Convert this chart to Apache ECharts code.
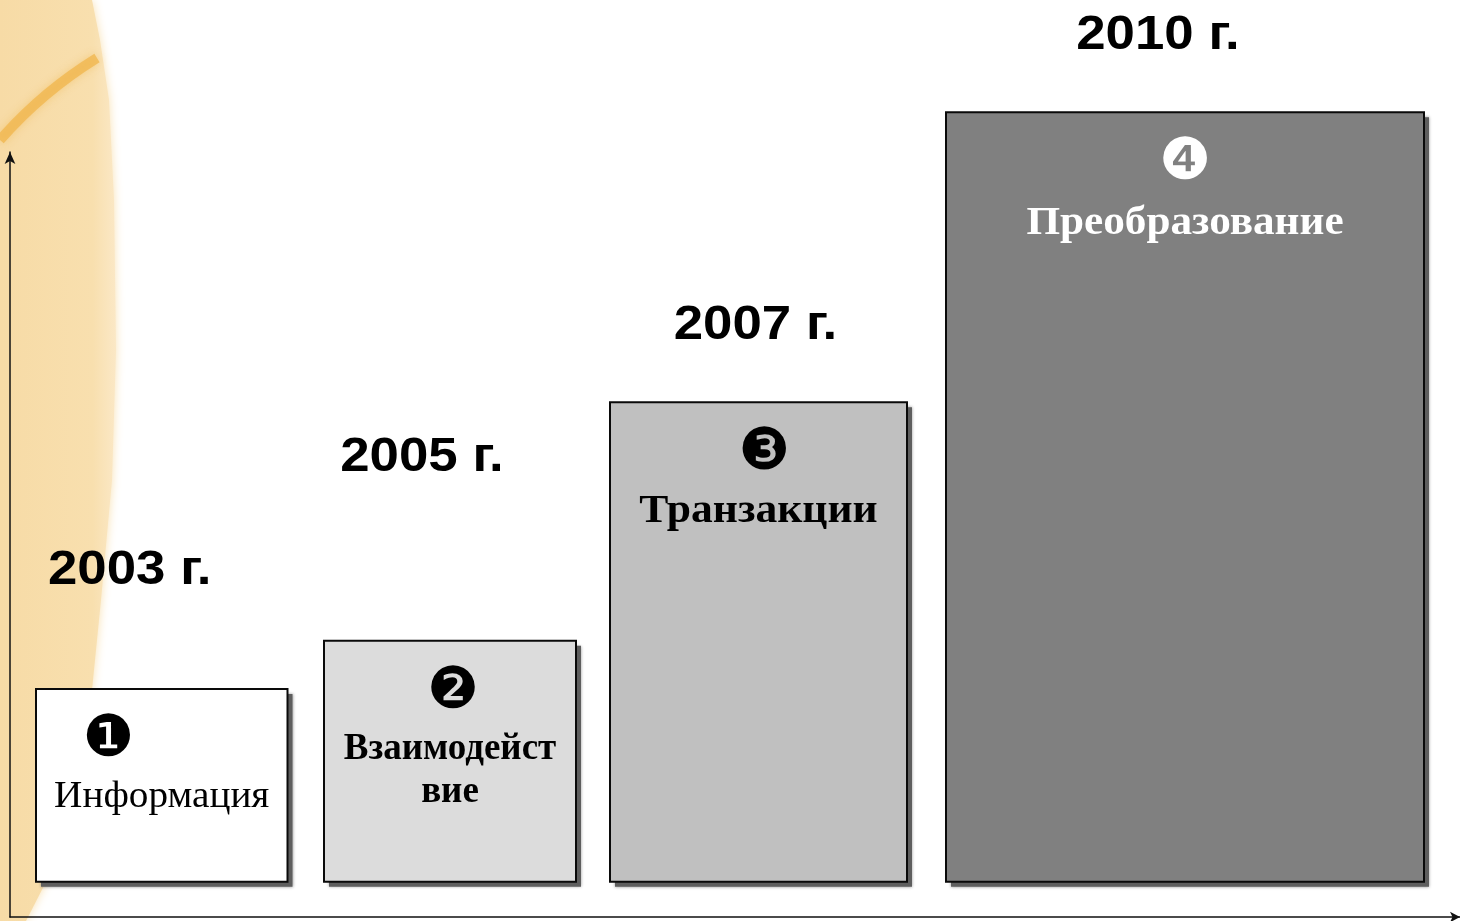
<!DOCTYPE html>
<html>
<head>
<meta charset="utf-8">
<script src="https://cdn.jsdelivr.net/npm/echarts@6/dist/echarts.min.js"></script>
<style>
html,body{margin:0;padding:0;background:#fff;}
#chart{width:1460px;height:921px;}
</style>
</head>
<body>
<div id="chart"></div>
<script>
// ---- data ----
const stages = ['Информация', 'Взаимодейст\nвие', 'Транзакции', 'Преобразование'];
const years = ['2003 г.', '2005 г.', '2007 г.', '2010 г.'];
const marks = ['❶', '❷', '❸', '❹'];
const xStart = [2.6, 31.4, 60.0, 93.6];
const xEnd = [27.75, 56.6, 89.7, 141.4];
const baseValue = [4.6, 4.6, 4.6, 4.6];
const topValue = [29.8, 36.1, 67.3, 105.2];

// ---- styles ----
const fills = ['#ffffff', '#dcdcdc', '#c0c0c0', '#808080'];
const markColors = ['#000', '#000', '#000', '#fff'];
const nameColors = ['#000', '#000', '#000', '#fff'];
const nameFonts = [
  'normal 37px "Liberation Serif"',
  'bold 37px "Liberation Serif"',
  'bold 40px "Liberation Serif"',
  'bold 40px "Liberation Serif"'
];
const nameScaleX = [1.06, 1.0, 1.09, 1.08];
const nameDy = [108, 130, 110, 111];
const markDx = [-53, 3, 6, 0];
const yearDx = [-32, -28, -3, -27];
const yearDy = [-118, -183, -76, -76];

const data = stages.map((s, i) => [xStart[i], xEnd[i], baseValue[i], topValue[i]]);

const chart = echarts.init(document.getElementById('chart'), null, {renderer: 'canvas'});
chart.setOption({
  backgroundColor: '#ffffff',
  animation: false,
  graphic: [
    {
      type: 'polygon', z: -10, silent: true,
      shape: {points: [[0,0],[92,0],[100,40],[109,100],[114,200],[116,350],[112,480],[101,600],[91,700],[74,800],[52,870],[26,921],[0,921]]},
      style: {
        fill: new echarts.graphic.LinearGradient(0, 0, 1, 0, [
          {offset: 0, color: '#f7dba6'},
          {offset: 0.8, color: '#f8dfae'},
          {offset: 1, color: '#fbe8c6'}
        ]),
        shadowBlur: 10, shadowColor: 'rgba(248,222,170,0.9)'
      }
    },
    {
      type: 'bezierCurve', z: -9, silent: true,
      shape: {x1: 0, y1: 140, x2: 97, y2: 58, cpx1: 42, cpy1: 92},
      style: {stroke: '#f0b64c', lineWidth: 10, fill: null, shadowBlur: 8, shadowColor: 'rgba(240,182,76,0.6)', opacity: 0.75}
    }
  ],
  grid: {left: 10, right: 0, top: 152, bottom: 4},
  xAxis: {
    type: 'value', min: 0, max: 145,
    axisLine: {show: true, symbol: ['none', 'arrow'], symbolSize: [8, 10], lineStyle: {color: '#111', width: 1.5}},
    axisTick: {show: false}, axisLabel: {show: false}, splitLine: {show: false}
  },
  yAxis: {
    type: 'value', min: 0, max: 100,
    axisLine: {show: true, symbol: ['none', 'arrow'], symbolSize: [8, 12], lineStyle: {color: '#111', width: 1.5}},
    axisTick: {show: false}, axisLabel: {show: false}, splitLine: {show: false}
  },
  series: [{
    type: 'custom',
    clip: false,
    data: data,
    renderItem: function (params, api) {
      const i = params.dataIndex;
      const p0 = api.coord([api.value(0), api.value(2)]);
      const p1 = api.coord([api.value(1), api.value(3)]);
      const x = p0[0], y = p1[1], w = p1[0] - p0[0], h = p0[1] - p1[1];
      const cx = x + w / 2;
      return {
        type: 'group',
        children: [
          {
            type: 'rect',
            shape: {x: x + 5, y: y + 5, width: w, height: h},
            style: {fill: '#5e5e5e', shadowBlur: 3, shadowColor: 'rgba(80,80,80,0.6)'}
          },
          {
            type: 'rect',
            shape: {x: x, y: y, width: w, height: h},
            style: {fill: fills[i], stroke: '#0a0a0a', lineWidth: 2}
          },
          {
            type: 'text', x: cx + markDx[i], y: y + 52,
            style: {text: marks[i], font: 'normal 58px "DejaVu Sans"', fill: markColors[i],
              align: 'center', verticalAlign: 'middle', textAlign: 'center', textVerticalAlign: 'middle'}
          },
          {
            type: 'text', x: cx, y: y + nameDy[i], scaleX: nameScaleX[i],
            style: {text: stages[i], font: nameFonts[i], fill: nameColors[i], lineHeight: 43,
              align: 'center', verticalAlign: 'middle', textAlign: 'center', textVerticalAlign: 'middle'}
          },
          {
            type: 'text', x: cx + yearDx[i], y: y + yearDy[i], scaleX: 1.1,
            style: {text: years[i], font: 'bold 48px "Liberation Sans"', fill: '#000',
              align: 'center', verticalAlign: 'middle', textAlign: 'center', textVerticalAlign: 'middle'}
          }
        ]
      };
    }
  }]
});
</script>
</body>
</html>
